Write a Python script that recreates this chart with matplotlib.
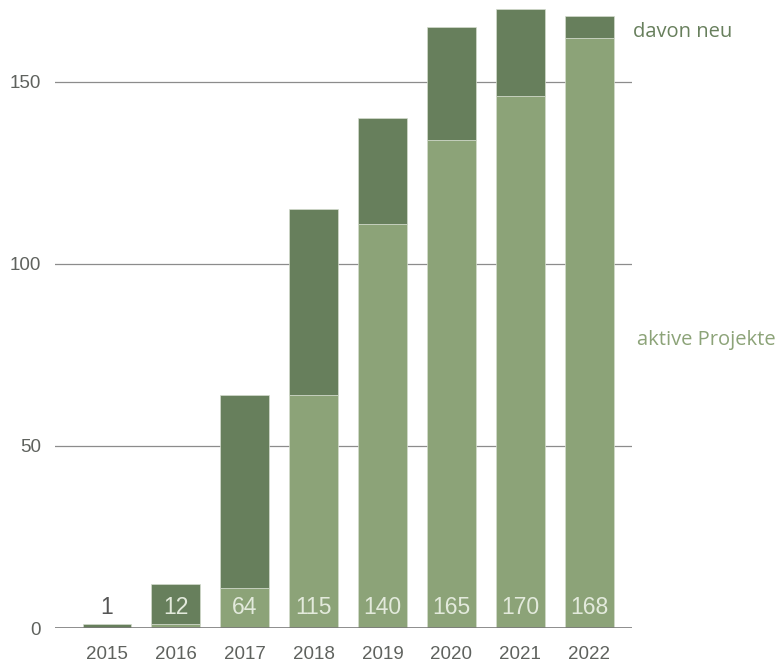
import numpy as np
from matplotlib import pyplot as plt

# Daten
jahre = ['2015', '2016', '2017', '2018', '2019', '2020', '2021', '2022']
aktiv = [0, 1, 11, 64, 111, 134, 146, 162]       # hellgrün
neu = [1, 11, 53, 51, 29, 31, 24, 6]             # dunkelgrün, "davon neu"
gesamt = [1, 12, 64, 115, 140, 165, 170, 168]
y_ticks = [0, 50, 100, 150]

HELL = '#8ca378'
DUNKEL = '#677f5c'
GRAU = '#5f625e'


def main():
    plt.rcParams['font.family'] = ['Liberation Sans', 'DejaVu Sans']
    fig = plt.figure(figsize=(7.78, 6.64), dpi=100)
    ax = fig.add_axes([0.0707, 0.0542, 0.8123 - 0.0707, 1 - 0.0542])

    x = np.arange(len(jahre))
    ax.bar(x, aktiv, width=0.71, color=HELL, edgecolor='#d4dccd', linewidth=0.5, zorder=3)
    ax.bar(x, neu, width=0.71, bottom=aktiv, color=DUNKEL, edgecolor='#d4dccd',
           linewidth=0.5, zorder=3)

    # Werte unten im Balken
    for xi, g in zip(x, gesamt):
        farbe = '#e3eadc' if g > 8 else '#555555'
        ax.text(xi, 2.6, str(g), ha='center', va='bottom', fontsize=16.5,
                color=farbe, zorder=4)

    ax.set_xlim(-0.755, 7.62)
    ax.set_ylim(0, 172.5)
    ax.set_yticks(y_ticks)
    ax.set_xticks(x)
    ax.set_xticklabels(jahre)
    ax.tick_params(axis='both', length=0, labelsize=13.5, colors=GRAU)
    ax.tick_params(axis='y', pad=10)
    ax.tick_params(axis='x', pad=13)

    for t in y_ticks[1:]:
        ax.axhline(t, color='#8c8c8c', linewidth=0.9, zorder=1)
    ax.axhline(0, color='#7a7a7a', linewidth=1.2, zorder=5)

    for s in ax.spines.values():
        s.set_visible(False)

    # Beschriftung rechts
    fig.text(633 / 778, 1 - 32 / 664, 'davon neu', fontsize=14.5, color=DUNKEL,
             family=['Open Sans', 'DejaVu Sans'], ha='left', va='center')
    fig.text(637 / 778, 1 - 340 / 664, 'aktive Projekte', fontsize=14.5, color=HELL,
             family=['Open Sans', 'DejaVu Sans'], ha='left', va='center')

    plt.savefig('out.png', dpi=100)


if __name__ == "__main__":
    main()
